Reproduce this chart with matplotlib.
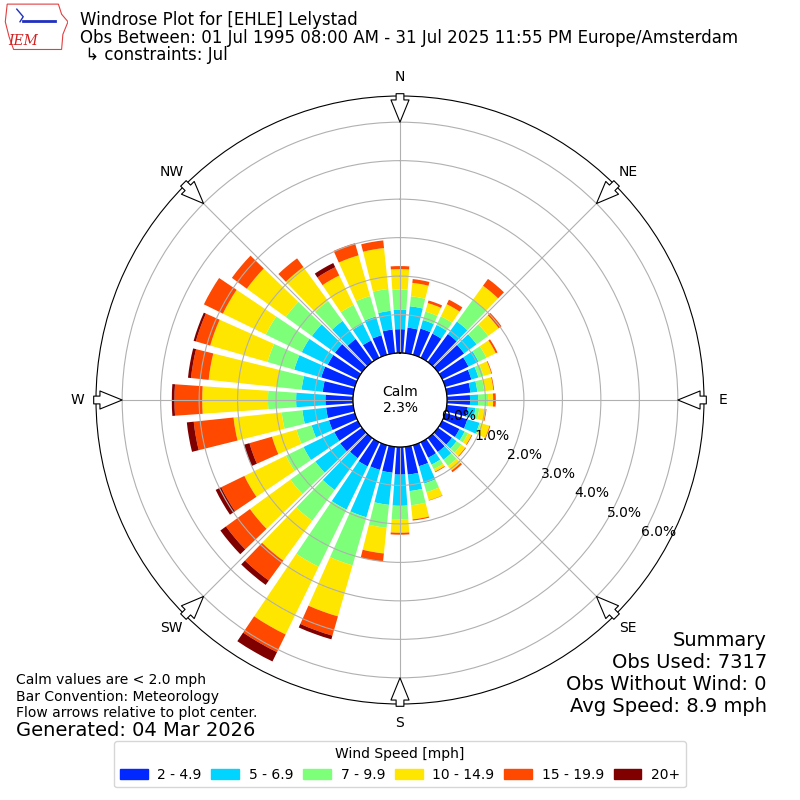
import numpy as np
import matplotlib
matplotlib.use("Agg")
import matplotlib.pyplot as plt
from matplotlib.patches import Patch, Polygon

# direction bins (deg, meteorological, from north clockwise)
directions = np.arange(0, 360, 10)
speed_labels = ["2 - 4.9", "5 - 6.9", "7 - 9.9", "10 - 14.9", "15 - 19.9", "20+"]
colors = ["#0028ff", "#00d4ff", "#7dff7a", "#ffe600", "#ff4800", "#800000"]

# percent of obs per direction bin, one list per speed class
spd_2_5 = [0.62, 0.67, 0.71, 0.70, 0.90, 0.84, 0.76, 0.71, 0.62, 0.60, 0.55, 0.60,
           0.50, 0.45, 0.45, 0.45, 0.57, 0.73, 0.72, 0.68, 0.67, 0.70, 0.65, 0.70,
           0.68, 0.70, 0.71, 0.72, 0.80, 0.91, 0.87, 0.87, 0.74, 0.50, 0.53, 0.62]
spd_5_7 = [0.51, 0.56, 0.23, 0.25, 0.40, 0.40, 0.29, 0.19, 0.18, 0.21, 0.20, 0.33,
           0.15, 0.15, 0.25, 0.20, 0.47, 0.43, 0.81, 0.84, 1.28, 1.25, 1.02, 0.80,
           0.89, 0.47, 0.62, 0.76, 0.55, 0.73, 0.75, 0.74, 0.58, 0.48, 0.51, 0.49]
spd_7_10 = [0.52, 0.26, 0.23, 0.25, 0.70, 0.37, 0.23, 0.14, 0.18, 0.26, 0.10, 0.04,
            0.10, 0.15, 0.20, 0.13, 0.23, 0.37, 0.35, 0.60, 1.30, 1.65, 0.99, 0.80,
            0.51, 0.41, 0.54, 0.73, 0.65, 0.72, 1.04, 0.84, 0.64, 0.55, 0.55, 0.57]
spd_10_15 = [0.53, 0.35, 0.23, 0.35, 0.45, 0.34, 0.27, 0.21, 0.24, 0.13, 0.17, 0.23,
             0.10, 0.13, 0.15, 0.07, 0.22, 0.37, 0.35, 0.67, 1.38, 1.96, 1.28, 1.30,
             1.20, 0.66, 1.26, 1.71, 1.78, 1.55, 1.24, 1.25, 1.09, 0.85, 1.10, 1.07]
spd_15_20 = [0.08, 0.10, 0.07, 0.13, 0.22, 0.09, 0.05, 0.02, 0.02, 0.07, 0.02, 0.02,
             0.02, 0.02, 0.05, 0.02, 0.01, 0.03, 0.05, 0.21, 0.52, 0.51, 0.64, 0.77,
             0.67, 0.61, 1.04, 0.72, 0.46, 0.39, 0.55, 0.48, 0.28, 0.24, 0.33, 0.20]
spd_20p = [0, 0, 0, 0, 0, 0, 0, 0, 0, 0, 0, 0,
           0, 0, 0, 0, 0, 0, 0, 0, 0.10, 0.27, 0.14, 0.18,
           0.16, 0.15, 0.18, 0.07, 0.08, 0.06, 0, 0, 0, 0.12, 0, 0]
series = [spd_2_5, spd_5_7, spd_7_10, spd_10_15, spd_15_20, spd_20p]

calm_pct = 2.3
compass = ["N", "NE", "E", "SE", "S", "SW", "W", "NW"]

fig = plt.figure(figsize=(8, 8), dpi=100)
ax = fig.add_axes([0.12, 0.12, 0.76, 0.76], projection="polar")
ax.set_theta_zero_location("N")
ax.set_theta_direction(-1)

theta = np.deg2rad(directions)
base = np.zeros(len(directions))
for vals, c, lab in zip(series, colors, speed_labels):
    ax.bar(theta, vals, width=np.deg2rad(8), bottom=base, color=c,
           label=lab, linewidth=0)
    base = base + np.array(vals)

ax.set_ylim(0, 6.68)
ax.set_rorigin(-1.22)
ax.set_yticks(range(7))
ax.set_yticklabels(["%.1f%%" % v for v in range(7)], fontsize=10)
ax.set_rlabel_position(120)
ax.set_xticks(np.deg2rad(np.arange(0, 360, 45)))
ax.set_xticklabels(compass, fontsize=10)
ax.tick_params(axis="x", pad=3)

# calm circle
t = np.linspace(0, 2 * np.pi, 361)
ax.plot(t, np.zeros_like(t), color="k", lw=1)
ax.text(0, -1.22, "Calm\n%.1f%%" % calm_pct, ha="center", va="center", fontsize=10)

# flow arrows
for ang in np.arange(0, 360, 45):
    a = np.deg2rad(ang)
    ax.annotate("", xy=(a, 6.0), xytext=(a, 6.74),
                arrowprops=dict(arrowstyle="simple,head_length=0.8,head_width=0.65,tail_width=0.28",
                                fc="white", ec="black", lw=0.8, mutation_scale=20,
                                shrinkA=0, shrinkB=0),
                annotation_clip=False)

# titles
fig.text(0.1, 1 - 20 / 800, "Windrose Plot for [EHLE] Lelystad", fontsize=12, va="center")
fig.text(0.1, 1 - 38 / 800,
         "Obs Between: 01 Jul 1995 08:00 AM - 31 Jul 2025 11:55 PM Europe/Amsterdam",
         fontsize=12, va="center")
fig.text(0.1, 1 - 55 / 800, " \u21b3 constraints: Jul", fontsize=12, va="center")

# IEM logo (rough)
lax = fig.add_axes([0.005, 0.935, 0.08, 0.063])
lax.axis("off")
lax.set_xlim(0, 1)
lax.set_ylim(0, 1)
lax.add_patch(Polygon([[0.05, 0.95], [0.85, 0.95], [0.9, 0.75], [1.0, 0.6], [0.92, 0.35],
                       [0.9, 0.05], [0.15, 0.05], [0.08, 0.3], [0.02, 0.6]],
                      closed=True, fill=False, ec="#e04040", lw=0.8))
lax.plot([0.3, 0.8], [0.62, 0.62], color="#2030c0", lw=2)
lax.plot([0.2, 0.3, 0.25], [0.85, 0.7, 0.6], color="#2030c0", lw=1)
lax.text(0.3, 0.22, "IEM", color="#d02020", fontsize=10, family="serif",
         style="italic", ha="center", va="center")

# notes
fig.text(16 / 800, 1 - 680 / 800, "Calm values are < 2.0 mph", fontsize=10, va="center")
fig.text(16 / 800, 1 - 697 / 800, "Bar Convention: Meteorology", fontsize=10, va="center")
fig.text(16 / 800, 1 - 713 / 800, "Flow arrows relative to plot center.", fontsize=10, va="center")
fig.text(16 / 800, 1 - 730 / 800, "Generated: 04 Mar 2026", fontsize=14, va="center")

summary = ["Summary", "Obs Used: 7317", "Obs Without Wind: 0", "Avg Speed: 8.9 mph"]
for i, s in enumerate(summary):
    fig.text(767 / 800, 1 - (640 + 22 * i) / 800, s, fontsize=14, ha="right", va="center")

handles = [Patch(color=c, label=l) for c, l in zip(colors, speed_labels)]
fig.legend(handles=handles, loc="lower center", bbox_to_anchor=(0.5, 0.007), ncol=6,
           title="Wind Speed [mph]", fontsize=10, title_fontsize=10,
           columnspacing=0.7, handletextpad=0.7)

fig.savefig("out.png", dpi=100)
